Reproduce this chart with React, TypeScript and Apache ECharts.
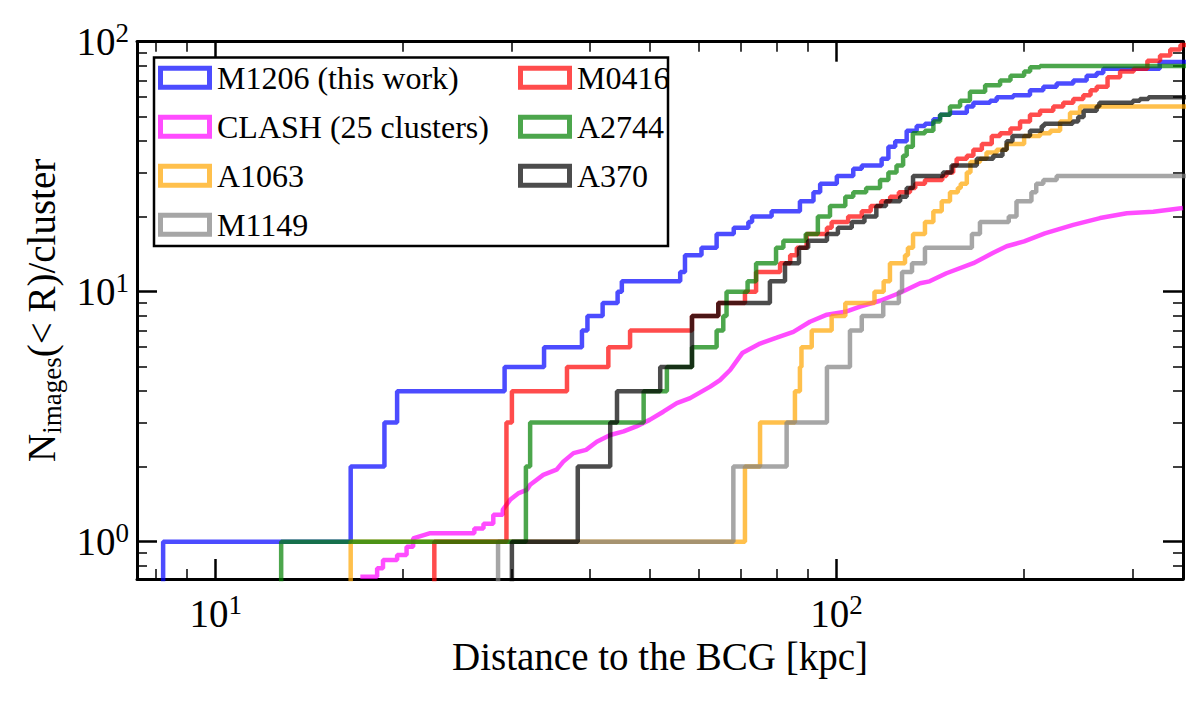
import React, { useEffect, useRef } from "react";
import * as echarts from "echarts";

const FONT = "Liberation Serif, serif";

// Radii [kpc] at which the cumulative count steps up, and the count reached there
const m1206R = [8.23, 16.5, 18.7, 19.6, 29.2, 33.8, 38.9, 39.7, 42.0, 44.4, 45.1, 56.0, 57.0, 60.6, 64.1, 68.3, 72.1, 73.1, 78.6, 87.3, 91.8, 94.1, 100.1, 106.4, 109.8, 118.2, 121.2, 124.3, 129.7, 134.6, 138.8, 143.2, 146.8, 152.3, 162.1, 166.1, 176.7, 181.1, 192.6, 204.9, 215.3, 226.2, 240.6, 252.8, 262.4, 268.9, 331.5];
const m1206N = [1, 2, 3, 4, 5, 6, 7, 8, 9, 10, 11, 12, 14, 15, 17, 18, 19, 20, 21, 23, 25, 27, 29, 31, 32, 34, 38, 40, 44, 46, 47, 49, 51, 52, 55, 57, 58, 60, 61, 64, 66, 68, 70, 73, 75, 78, 83];

const clashR = [17.1, 18.2, 18.2, 18.6, 18.6, 19.6, 19.6, 20.3, 20.3, 20.8, 20.8, 22.1, 26.1, 26.1, 27.0, 27.0, 28.0, 28.0, 29.0, 29.0, 29.8, 30.7, 31.7, 32.1, 33.7, 35.4, 36.3, 37.7, 39.5, 41.1, 43.2, 45.4, 47.6, 50.0, 52.6, 55.3, 58.1, 62.6, 64.9, 67.4, 70.5, 75.3, 79.9, 85.2, 90.6, 96.5, 103.3, 109.1, 117.5, 126.6, 136.3, 141.2, 150.3, 166.1, 178.8, 187.9, 200.5, 216.5, 240.6, 265.7, 293.4, 323.7, 361.4];
const clashN = [0.724, 0.724, 0.783, 0.783, 0.845, 0.845, 0.885, 0.885, 0.955, 0.955, 1.03, 1.08, 1.08, 1.13, 1.13, 1.18, 1.18, 1.28, 1.28, 1.34, 1.47, 1.56, 1.61, 1.69, 1.85, 1.94, 2.09, 2.26, 2.33, 2.51, 2.67, 2.76, 2.89, 3.07, 3.31, 3.58, 3.75, 4.17, 4.43, 4.86, 5.68, 6.2, 6.53, 6.91, 7.58, 8.09, 8.31, 8.72, 9.2, 9.9, 10.8, 11.0, 11.85, 13.0, 14.3, 15.2, 15.9, 17.1, 18.5, 19.7, 20.6, 20.9, 21.6];

const a1063R = [16.5, 71.2, 75.3, 85.7, 87.3, 87.8, 91.2, 98.2, 103.3, 115.1, 119.1, 121.9, 128.9, 130.3, 132.8, 138.8, 143.2, 147.7, 152.3, 156.8, 158.5, 162.1, 164.3, 170.2, 174.4, 181.1, 187.9, 200.5, 212.7, 221.0, 229.1, 237.7, 246.7];
const a1063N = [1, 2, 3, 4, 5, 6, 7, 8, 9, 10, 11, 13, 14, 15, 17, 19, 21, 23, 25, 26, 27, 30, 33, 34, 36, 37, 39, 42, 43, 44, 48, 52, 55];

const m1149R = [28.5, 68.2, 83.1, 96.5, 105.1, 109.8, 118.9, 126.0, 127.5, 132.3, 138.8, 165.2, 170.2, 189.4, 194.9, 206.0, 209.7, 215.3, 226.2];
const m1149N = [1, 2, 3, 5, 7, 8, 9, 10, 12, 13, 15, 17, 19, 20, 23, 25, 27, 28, 29];

const m0416R = [22.5, 29.4, 30.0, 36.8, 42.9, 46.5, 58.5, 64.5, 71.2, 74.2, 81.1, 84.2, 86.3, 89.5, 96.5, 98.2, 104.4, 109.8, 113.5, 118.0, 122.0, 126.0, 131.3, 133.9, 138.8, 148.0, 150.3, 154.1, 156.1, 162.1, 166.1, 171.4, 177.8, 183.4, 190.6, 197.5, 204.9, 212.7, 223.4, 231.8, 240.6, 249.7, 256.5, 262.4, 273.2, 286.2, 301.0, 316.7, 331.9, 344.7, 358.0];
const m0416N = [1, 3, 4, 5, 6, 7, 8, 9, 10, 12, 13, 14, 15, 17, 18, 19, 20, 21, 22, 23, 24, 25, 26, 27, 28, 29, 30, 32, 34, 35, 37, 39, 42, 43, 45, 48, 51, 53, 55, 57, 59, 61, 64, 66, 72, 76, 78, 84, 88, 93, 97];

const a2744R = [12.75, 31.6, 32.1, 48.9, 53.3, 58.5, 64.1, 65.7, 66.5, 71.9, 74.2, 79.9, 82.1, 89.2, 93.3, 97.6, 103.3, 106.4, 111.6, 117.5, 121.2, 124.9, 128.0, 129.7, 132.7, 138.8, 143.2, 146.8, 152.3, 158.1, 164.0, 173.5, 183.4, 190.6, 200.5, 205.0, 212.7];
const a2744N = [1, 2, 3, 4, 5, 6, 7, 8, 10, 11, 13, 15, 16, 17, 20, 22, 24, 25, 26, 28, 30, 32, 35, 38, 43, 44, 48, 51, 55, 58, 63, 67, 70, 73, 76, 79, 80];

const a370R = [30.0, 38.3, 43.2, 44.3, 52.0, 58.5, 64.5, 78.1, 82.6, 87.0, 90.0, 96.5, 100.5, 105.8, 110.9, 115.9, 120.1, 126.6, 129.7, 132.8, 148.4, 153.2, 168.2, 178.8, 185.0, 187.9, 192.0, 204.9, 214.0, 216.0, 240.0, 245.0, 250.0, 262.4, 265.0, 300.0, 308.0, 318.0];
const a370N = [1, 2, 3, 4, 5, 8, 9, 11, 13, 15, 16, 17, 18, 19, 20, 22, 23, 24, 26, 29, 30, 32, 34, 35, 37, 40, 42, 44, 46, 47, 48, 50, 53, 55, 57, 58, 59, 60];

// Axis ticks
const xMajor = [10, 100];
const xMinor = [8, 9, 20, 30, 40, 50, 60, 70, 80, 90, 200, 300];
const yMajor = [1, 10, 100];
const yMinor = [0.8, 0.9, 2, 3, 4, 5, 6, 7, 8, 9, 20, 30, 40, 50, 60, 70, 80, 90];

const X_MIN = 7.47;
const X_MAX = 361.4;
const Y_MIN = 0.709;
const Y_MAX = 100;
const R_END = 400; // histogram range end (beyond axis)
const N_FLOOR = 0.5; // zero-count level, drawn below the axis

const COLORS = {
  m1206: "rgba(0,0,255,0.7)",
  clash: "rgba(255,0,255,0.7)",
  a1063: "rgba(255,165,0,0.7)",
  m1149: "rgba(128,128,128,0.7)",
  m0416: "rgba(255,0,0,0.7)",
  a2744: "rgba(0,128,0,0.7)",
  a370: "rgba(0,0,0,0.7)",
};

function stepData(r: number[], n: number[]) {
  const d: number[][] = [[r[0], N_FLOOR]];
  r.forEach((v, i) => d.push([v, n[i]]));
  d.push([R_END, n[n.length - 1]]);
  return d;
}

function lineData(r: number[], n: number[]) {
  return r.map((v, i) => [v, n[i]]);
}

const HOLLOW = "path://M0,0H54V24H0Z M5,5V19H49V5Z";

const powFmt = (v: number) => `{b|10}{s|${Math.round(Math.log10(v))}}`;
const powRich = {
  b: { fontFamily: FONT, fontSize: 39, color: "#000", lineHeight: 44 },
  s: { fontFamily: FONT, fontSize: 27, color: "#000", verticalAlign: "top", lineHeight: 24 },
};

function makeX(position: string, major: boolean, showLine: boolean, labels: boolean, extra: any = {}) {
  return {
    type: "log",
    logBase: 10,
    gridIndex: 0,
    min: X_MIN,
    max: X_MAX,
    position,
    splitLine: { show: false },
    axisLine: { show: showLine, lineStyle: { color: "#000", width: 3 } },
    axisTick: {
      show: true,
      inside: true,
      length: major ? 20 : 10,
      customValues: major ? xMajor : xMinor,
      lineStyle: { color: "#000", width: major ? 2.5 : 1.5 },
    },
    axisLabel: labels
      ? { show: true, customValues: xMajor, margin: 12, formatter: powFmt, rich: powRich }
      : { show: false },
    ...extra,
  };
}

function makeY(position: string, major: boolean, showLine: boolean, labels: boolean, extra: any = {}) {
  return {
    type: "log",
    logBase: 10,
    gridIndex: 0,
    min: Y_MIN,
    max: Y_MAX,
    position,
    splitLine: { show: false },
    axisLine: { show: showLine, lineStyle: { color: "#000", width: 3 } },
    axisTick: {
      show: true,
      inside: true,
      length: major ? 20 : 10,
      customValues: major ? yMajor : yMinor,
      lineStyle: { color: "#000", width: major ? 2.5 : 1.5 },
    },
    axisLabel: labels
      ? { show: true, customValues: yMajor, margin: 8, formatter: powFmt, rich: powRich }
      : { show: false },
    ...extra,
  };
}

const stepSeries = (name: string, r: number[], n: number[], color: string) => ({
  name,
  type: "line",
  step: "end",
  data: stepData(r, n),
  showSymbol: false,
  symbol: "none",
  color,
  lineStyle: { color, width: 4.5 },
  silent: true,
  emphasis: { disabled: true },
  clip: true,
});

const legendText = { fontFamily: FONT, fontSize: 32, color: "#000", lineHeight: 32 };

const legendBase = {
  orient: "vertical",
  top: 61.7,
  padding: 0,
  itemGap: 17,
  itemWidth: 54,
  itemHeight: 24,
  icon: HOLLOW,
  itemStyle: { borderWidth: 0 },
  textStyle: legendText,
  selectedMode: false,
};

const option = {
  animation: false,
  backgroundColor: "#fff",
  textStyle: { fontFamily: FONT },
  grid: { left: 137, right: 17, top: 41.7, bottom: 125 },
  xAxis: [
    makeX("bottom", true, true, true, {
      name: "Distance to the BCG [kpc]",
      nameLocation: "middle",
      nameGap: 58,
      nameTextStyle: { fontFamily: FONT, fontSize: 39, color: "#000" },
    }),
    makeX("bottom", false, false, false),
    makeX("top", true, true, false),
    makeX("top", false, false, false),
  ],
  yAxis: [
    makeY("left", true, true, true, {
      name: "{n|N}{sub|images}{n|(< R)/cluster}",
      nameLocation: "middle",
      nameRotate: 90,
      nameGap: 70,
      nameTextStyle: {
        fontFamily: FONT,
        rich: {
          n: { fontFamily: FONT, fontSize: 39, color: "#000", lineHeight: 48 },
          sub: { fontFamily: FONT, fontSize: 27, color: "#000", verticalAlign: "bottom", lineHeight: 26 },
        },
      },
    }),
    makeY("left", false, false, false),
    makeY("right", true, true, false),
    makeY("right", false, false, false),
  ],
  legend: [
    { ...legendBase, data: ["M1206 (this work)", "CLASH (25 clusters)", "A1063", "M1149"], left: 158 },
    { ...legendBase, data: ["M0416", "A2744", "A370"], left: 518 },
  ],
  graphic: [
    {
      type: "rect",
      z: 3,
      shape: { x: 154, y: 57.5, width: 514, height: 188.5 },
      style: { fill: "#fff", stroke: "#000", lineWidth: 2.5 },
      silent: true,
    },
  ],
  series: [
    stepSeries("M1206 (this work)", m1206R, m1206N, COLORS.m1206),
    {
      name: "CLASH (25 clusters)",
      type: "line",
      data: lineData(clashR, clashN),
      showSymbol: false,
      symbol: "none",
      color: COLORS.clash,
      lineStyle: { color: COLORS.clash, width: 4.5 },
      silent: true,
      emphasis: { disabled: true },
      clip: true,
    },
    stepSeries("A1063", a1063R, a1063N, COLORS.a1063),
    stepSeries("M1149", m1149R, m1149N, COLORS.m1149),
    stepSeries("M0416", m0416R, m0416N, COLORS.m0416),
    stepSeries("A2744", a2744R, a2744N, COLORS.a2744),
    stepSeries("A370", a370R, a370N, COLORS.a370),
  ],
};

export default function App() {
  const ref = useRef<HTMLDivElement>(null);
  useEffect(() => {
    if (!ref.current) return;
    const chart = echarts.init(ref.current, null, { renderer: "svg" });
    chart.setOption(option as any);
    return () => chart.dispose();
  }, []);
  return (
    <div
      ref={ref}
      style={{ position: "fixed", left: 0, top: 0, width: 1200, height: 704, background: "#fff" }}
    />
  );
}
